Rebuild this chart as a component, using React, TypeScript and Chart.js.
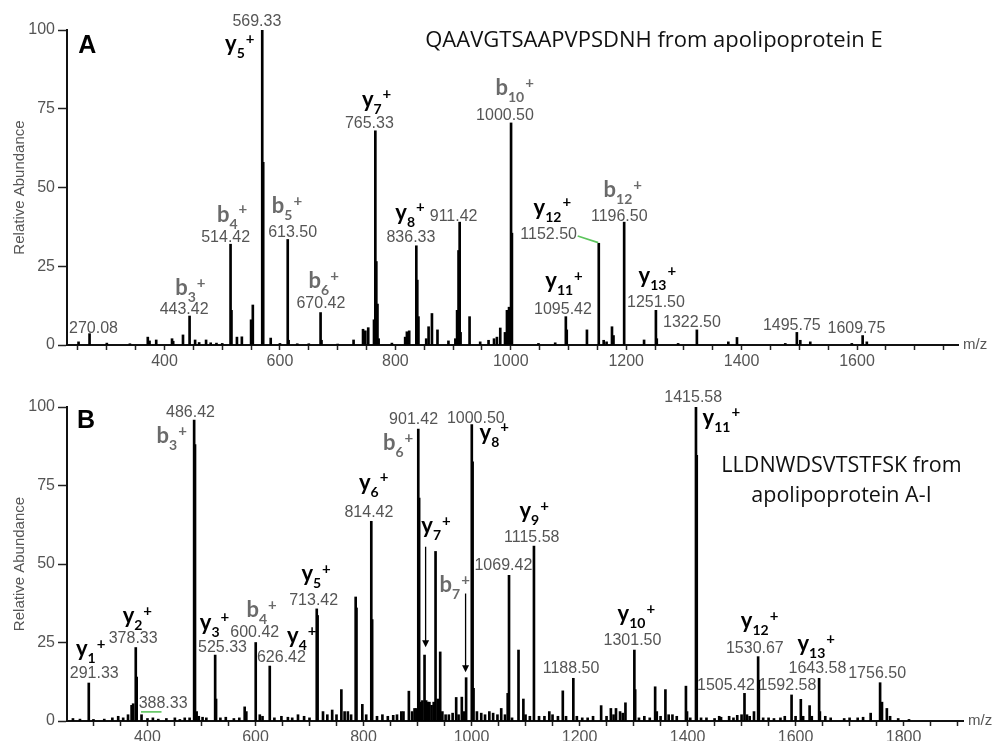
import React, { useEffect, useRef } from 'react';
import { Chart, registerables } from 'chart.js';

Chart.register(...registerables);

// ---------- Panel A: QAAVGTSAAPVPSDNH ----------
const mzA = [
  251, 270.08, 300, 340, 371, 374, 385.6, 413, 415, 432,
  443.42, 453, 460, 472, 480, 490, 500, 514.42, 516, 525.5,
  534, 550, 553, 569.33, 571, 584, 600, 613.5, 615, 630,
  650, 670.42, 672, 700, 727.6, 744, 748, 753, 763, 765.33,
  767, 769, 771, 794, 817, 820, 824, 836.33, 838, 840,
  853.5, 857.6, 863.4, 873, 892, 904, 907, 909.5, 911.42, 913,
  928.6, 947, 961.5, 971, 976, 981.8, 990, 993.4, 997, 1000.5,
  1002, 1048, 1077, 1095.42, 1097, 1132, 1152.5, 1161, 1166, 1175.4,
  1178, 1196.5, 1231, 1251.5, 1253, 1290, 1322.5, 1377, 1392, 1475.7,
  1495.75, 1501.7, 1519, 1591, 1609.75, 1617,
];
const intA = [
  1.0, 3.6, 0.6, 0.4, 2.5, 1.3, 1.6, 2.0, 1.2, 3.2,
  9.2, 1.6, 0.8, 1.6, 0.7, 0.6, 0.5, 32.0, 11.0, 2.5,
  2.6, 8.0, 12.7, 100, 58, 2.2, 0.5, 33.5, 1.5, 0.4,
  0.4, 10.3, 1.5, 0.3, 1.6, 5.0, 4.5, 5.5, 8, 68,
  26.5, 13, 2, 0.6, 2.5, 4.2, 4.5, 31.5, 20.6, 9,
  2, 5.8, 10, 4.8, 1.3, 2, 11, 30, 39, 4,
  9, 1, 1.5, 2, 2.5, 5.4, 4, 11, 12, 70.5,
  35.5, 0.5, 0.7, 9, 4.8, 4.8, 32.3, 1.5, 1, 5.8,
  3, 39, 1.6, 11, 2, 0.5, 4.8, 1, 2.4, 0.5,
  4, 1.5, 1, 0.5, 3, 1,
];
const xTicksA = [
  250, 300, 350, 400, 450, 500, 550, 600, 650, 700, 750, 800, 850, 900, 950,
  1000, 1050, 1100, 1150, 1200, 1250, 1300, 1350, 1400, 1450, 1500, 1550, 1600,
  1650, 1700, 1750,
];
// [m/z, abundance, text] – value labels (centre, baseline)
const valueLabelsA: [number, number, string][] = [
  [560, 101.2, '569.33'], [277, 3.9, '270.08'], [434, 10, '443.42'],
  [506, 32.8, '514.42'], [622, 34.4, '613.50'], [671, 11.6, '670.42'],
  [755, 69, '765.33'], [827, 32.6, '836.33'], [901, 39.5, '911.42'],
  [990, 71.4, '1000.50'], [1065.6, 33.5, '1152.50'], [1188, 39.5, '1196.50'],
  [1090.5, 10, '1095.42'], [1251.6, 12.2, '1251.50'], [1314, 5.8, '1322.50'],
  [1487, 4.8, '1495.75'], [1599, 3.7, '1609.75'],
];
// [ion letter, index, m/z of left edge, abundance of baseline]
const ionLabelsA: [string, string, number, number][] = [
  ['y', '5', 505, 93.2], ['b', '3', 418.5, 15.9], ['b', '4', 490.8, 39.2],
  ['b', '5', 586, 41.8], ['b', '6', 649.6, 18], ['y', '7', 742, 75.7],
  ['y', '8', 800, 39.8], ['b', '10', 973.5, 79.4], ['y', '12', 1039.5, 41.4],
  ['b', '12', 1160.8, 47], ['y', '11', 1059.8, 18.1], ['y', '13', 1221.5, 19.7],
];
const titleA: [string, number, number][] = [
  ['QAAVGTSAAPVPSDNH from apolipoprotein E', 851.8, 94.7],
];
const connectorsA: [number, number, number, number][] = [[1116, 34.6, 1151.5, 32.5]];

// ---------- Panel B: LLDNWDSVTSTFSK ----------
const mzB = [
  262, 275, 291.33, 300, 320, 335, 345.8, 355, 364, 370.6,
  373.5, 378.33, 380, 389, 400, 410, 420, 435, 450.7, 460,
  469, 478, 486.42, 488, 491, 495, 502, 509, 525.33, 527,
  535, 545, 560, 570, 580, 583, 600.42, 608, 613, 626.42,
  635, 648, 660, 668, 678.7, 690, 700, 713.42, 715, 725,
  733, 742, 750, 759, 765, 771, 777, 785.5, 787, 797.8,
  805, 814.42, 816, 825, 835, 845, 855, 862, 870, 874,
  884, 890, 894.5, 898, 901.42, 903, 906, 909, 913, 916,
  919, 922, 926, 930, 933.4, 937.7, 942, 946, 952, 958,
  965, 971.6, 976, 982, 986, 990, 1000.5, 1002, 1003.7, 1010,
  1018, 1025, 1033, 1040, 1048, 1055, 1062, 1067, 1069.42, 1075,
  1087, 1096, 1100, 1108, 1115.58, 1125, 1135, 1144, 1150, 1160,
  1169, 1175, 1188.5, 1195, 1205, 1215, 1225, 1240, 1250, 1258,
  1263, 1267.5, 1275, 1280, 1285, 1301.5, 1303, 1310, 1320, 1330,
  1340, 1343, 1350, 1359, 1365, 1372, 1380, 1397, 1399, 1405,
  1415.58, 1417, 1425, 1435, 1450, 1458.6, 1462, 1477, 1485, 1492,
  1500, 1505.42, 1510, 1515, 1523, 1530.67, 1532, 1540, 1550, 1560,
  1572, 1580, 1592.58, 1600, 1609.7, 1614, 1626, 1630, 1643.58, 1645,
  1655, 1665, 1690, 1700, 1715, 1725, 1739, 1756.5, 1760, 1769,
  1775, 1790, 1810,
];
const intB = [
  0.8, 0.6, 12.1, 0.5, 0.6, 1.0, 1.5, 1.0, 2.0, 5.0,
  5.5, 23.4, 14, 2.0, 0.8, 1.0, 0.6, 0.8, 1.0, 0.5,
  1.0, 1.0, 95.8, 88, 3, 1.5, 1.2, 1.0, 21, 7,
  1, 1.2, 0.8, 1, 4.5, 3, 25, 2, 1.5, 17.5,
  1, 1.5, 1.2, 1, 2, 1.5, 1, 35.7, 33.6, 3,
  2, 3.5, 2, 10, 3, 3, 2, 39.5, 36, 5.3,
  2, 63.6, 32.3, 1.5, 2, 1.5, 1.8, 2, 3, 3,
  9.5, 3, 4, 4, 93, 71, 6, 6.5, 21, 6.5,
  6, 6, 5, 6, 54, 7, 22, 3, 2, 2,
  2.5, 7.5, 2, 7.6, 3, 13.8, 94.4, 82.5, 10.4, 3,
  2.5, 2, 3, 2.5, 2, 4, 2, 8.8, 46.4, 1,
  22.6, 7, 2, 1.5, 55.7, 1.5, 1.5, 3, 2, 1.5,
  9.6, 1.5, 13.6, 1.5, 1, 1, 1.5, 4.9, 1.5, 4,
  2, 4, 3, 2.5, 5.8, 22.6, 10, 1, 1.5, 1,
  10.9, 3, 1.5, 10, 2, 2, 1.5, 11.1, 3, 1,
  100, 84.6, 1, 1, 0.8, 1.5, 1.2, 1.5, 1, 1.8,
  2, 8.8, 2, 1.5, 3, 20.5, 13, 1, 1, 0.8,
  1, 1.5, 8.3, 1.5, 6.9, 1.5, 4.9, 1.5, 13.6, 3,
  1.5, 1, 0.8, 1, 1, 1.2, 2.5, 12.2, 6, 4,
  1.5, 0.8, 0.5,
];
const xTicksB = [
  300, 350, 400, 450, 500, 550, 600, 650, 700, 750, 800, 850, 900, 950, 1000,
  1050, 1100, 1150, 1200, 1250, 1300, 1350, 1400, 1450, 1500, 1550, 1600, 1650,
  1700, 1750, 1800, 1850, 1900,
];
const valueLabelsB: [number, number, string][] = [
  [479.7, 96.9, '486.42'], [301.5, 13.6, '291.33'], [373.5, 24.7, '378.33'],
  [429, 4, '388.33'], [539, 21.9, '525.33'], [598.6, 26.8, '600.42'],
  [648, 18.9, '626.42'], [707.7, 36.9, '713.42'], [810, 65, '814.42'],
  [892.7, 94.6, '901.42'], [1008, 95, '1000.50'], [1059, 48.2, '1069.42'],
  [1111.5, 57.1, '1115.58'], [1184.3, 15.2, '1188.50'], [1298, 24.2, '1301.50'],
  [1410.5, 101.7, '1415.58'], [1524.6, 21.8, '1530.67'], [1640.5, 15.2, '1643.58'],
  [1751, 13.6, '1756.50'], [1471, 9.9, '1505.42'], [1585, 9.9, '1592.58'],
];
const ionLabelsB: [string, string, number, number][] = [
  ['b', '3', 416.8, 88.6], ['y', '1', 267.6, 20.6], ['y', '2', 354, 31.2],
  ['y', '3', 497, 29.1], ['b', '4', 583.3, 33.2], ['y', '4', 658.4, 24.8],
  ['y', '5', 685, 44.5], ['y', '6', 791.5, 73.7], ['b', '6', 836, 86.3],
  ['y', '7', 907, 59.9], ['b', '7', 940.8, 41], ['y', '8', 1015, 89.6],
  ['y', '9', 1088.7, 64.6], ['y', '10', 1270.5, 31.7], ['y', '11', 1427.8, 94.4],
  ['y', '12', 1498.7, 29.6], ['y', '13', 1603.4, 22.2],
];
const titleB: [string, number, number][] = [
  ['LLDNWDSVTSTFSK from', 1685, 79.4],
  ['apolipoprotein A-I', 1685, 69.8],
];
const connectorsB: [number, number, number, number][] = [[388, 2.9, 426, 2.9]];
// [m/z, from abundance, to abundance (arrow tip)]
const arrowsB: [number, number, number][] = [[915, 55.5, 23.5], [989, 40.6, 15.5]];

const yTicks = [0, 25, 50, 75, 100];

const NUM_FONT = '"Liberation Sans", Arial, sans-serif';
const ION_FONT = 'Lato, "Open Sans", sans-serif';
const TITLE_FONT = '"Open Sans", Lato, sans-serif';

type PanelSpec = {
  letter: string;
  letterPos: [number, number];
  mz: number[];
  ab: number[];
  xMin: number;
  xMax: number;
  xTicks: number[];
  padTop: number;
  padRight: number;
  xHeight: number;
  values: [number, number, string][];
  ions: [string, string, number, number][];
  title: [string, number, number][];
  titleAlign: CanvasTextAlign;
  titleSize: number;
  connectors: [number, number, number, number][];
  arrows: [number, number, number][];
};

function annotPlugin(p: PanelSpec) {
  return {
    id: 'annot',
    afterDraw(chart: any) {
      const { ctx, chartArea } = chart;
      const xs = chart.scales.x;
      const ys = chart.scales.y;
      const px = (m: number) => xs.getPixelForValue(m);
      const py = (a: number) => ys.getPixelForValue(a);
      ctx.save();

      // connectors (green)
      ctx.strokeStyle = '#5cc45c';
      ctx.lineWidth = 1.6;
      p.connectors.forEach(([m1, a1, m2, a2]) => {
        ctx.beginPath();
        ctx.moveTo(px(m1), py(a1));
        ctx.lineTo(px(m2), py(a2));
        ctx.stroke();
      });

      // arrows
      ctx.strokeStyle = '#000';
      ctx.fillStyle = '#000';
      ctx.lineWidth = 1.3;
      p.arrows.forEach(([m, a1, a2]) => {
        const x = px(m);
        const y1 = py(a1);
        const y2 = py(a2);
        ctx.beginPath();
        ctx.moveTo(x, y1);
        ctx.lineTo(x, y2 - 5);
        ctx.stroke();
        ctx.beginPath();
        ctx.moveTo(x - 3.5, y2 - 7);
        ctx.lineTo(x + 3.5, y2 - 7);
        ctx.lineTo(x, y2);
        ctx.closePath();
        ctx.fill();
      });

      // value labels
      ctx.font = `16px ${NUM_FONT}`;
      ctx.fillStyle = '#555';
      ctx.textAlign = 'center';
      ctx.textBaseline = 'alphabetic';
      p.values.forEach(([m, a, t]) => ctx.fillText(t, px(m), py(a)));

      // ion labels
      p.ions.forEach(([letter, idx, m, a]) => {
        const color = letter === 'y' ? '#000' : '#6a6a6a';
        let x = px(m);
        const y = py(a);
        ctx.fillStyle = color;
        ctx.textAlign = 'left';
        ctx.textBaseline = 'alphabetic';
        ctx.font = `bold 22px ${ION_FONT}`;
        ctx.fillText(letter, x, y);
        x += ctx.measureText(letter).width;
        ctx.font = `bold 14px ${ION_FONT}`;
        ctx.fillText(idx, x, y + 7);
        x += ctx.measureText(idx).width + 1;
        ctx.font = `bold 15px ${ION_FONT}`;
        ctx.textBaseline = 'middle';
        ctx.fillText('+', x, y - 12);
      });

      // titles
      ctx.fillStyle = '#111';
      ctx.textBaseline = 'alphabetic';
      ctx.textAlign = p.titleAlign;
      ctx.font = `${p.titleSize}px ${TITLE_FONT}`;
      p.title.forEach(([t, m, a]) => ctx.fillText(t, px(m), py(a)));

      // panel letter
      ctx.textAlign = 'left';
      ctx.font = `bold 25px ${NUM_FONT}`;
      ctx.fillStyle = '#000';
      ctx.fillText(p.letter, px(p.letterPos[0]), py(p.letterPos[1]));

      // axis unit
      ctx.font = `15px ${NUM_FONT}`;
      ctx.fillStyle = '#555';
      ctx.textBaseline = 'middle';
      ctx.fillText('m/z', chartArea.right + 5, py(0));

      ctx.restore();
    },
  };
}

function makeConfig(p: PanelSpec): any {
  return {
    type: 'bar',
    data: {
      datasets: [
        {
          data: p.mz.map((m, i) => ({ x: m, y: p.ab[i] })),
          backgroundColor: '#000',
          borderWidth: 0,
          barThickness: 2,
          grouped: false,
        },
      ],
    },
    options: {
      animation: false,
      responsive: false,
      events: [],
      layout: { padding: { top: p.padTop, right: p.padRight, left: 0, bottom: 0 } },
      plugins: { legend: { display: false }, tooltip: { enabled: false } },
      scales: {
        x: {
          type: 'linear',
          min: p.xMin,
          max: p.xMax,
          offset: false,
          afterBuildTicks: (s: any) => {
            s.ticks = p.xTicks.map((v) => ({ value: v }));
          },
          afterFit: (s: any) => {
            s.height = p.xHeight;
          },
          grid: {
            display: true,
            drawOnChartArea: false,
            drawTicks: true,
            tickLength: 5,
            tickColor: '#222',
            tickWidth: 1.5,
            offset: false,
          },
          border: { display: true, color: '#111', width: 2 },
          ticks: {
            autoSkip: false,
            maxRotation: 0,
            minRotation: 0,
            padding: 2,
            color: '#555',
            font: { family: NUM_FONT, size: 16 },
            callback: (v: number) => (v % 200 === 0 ? String(v) : ''),
          },
        },
        y: {
          type: 'linear',
          min: 0,
          max: 100,
          afterBuildTicks: (s: any) => {
            s.ticks = yTicks.map((v) => ({ value: v }));
          },
          afterFit: (s: any) => {
            s.width = 67;
          },
          grid: {
            display: true,
            drawOnChartArea: false,
            drawTicks: true,
            tickLength: 9,
            tickColor: '#222',
            tickWidth: 1.5,
          },
          border: { display: true, color: '#111', width: 2 },
          ticks: {
            padding: 3,
            color: '#555',
            font: { family: NUM_FONT, size: 16 },
            callback: (v: number) => String(v),
          },
          title: {
            display: true,
            text: 'Relative Abundance',
            color: '#555',
            font: { family: NUM_FONT, size: 15 },
            padding: { top: 11, bottom: 0 },
          },
        },
      },
    },
    plugins: [annotPlugin(p)],
  };
}

const panelA: PanelSpec = {
  letter: 'A',
  letterPos: [250.4, 92.7],
  mz: mzA,
  ab: intA,
  xMin: 231,
  xMax: 1775,
  xTicks: xTicksA,
  padTop: 30,
  padRight: 35,
  xHeight: 25,
  values: valueLabelsA,
  ions: ionLabelsA,
  title: titleA,
  titleAlign: 'left',
  titleSize: 22,
  connectors: connectorsA,
  arrows: [],
};

const panelB: PanelSpec = {
  letter: 'B',
  letterPos: [269.4, 93.3],
  mz: mzB,
  ab: intB,
  xMin: 251,
  xMax: 1910,
  xTicks: xTicksB,
  padTop: 37,
  padRight: 30,
  xHeight: 20,
  values: valueLabelsB,
  ions: ionLabelsB,
  title: titleB,
  titleAlign: 'center',
  titleSize: 21.5,
  connectors: connectorsB,
  arrows: arrowsB,
};

export default function App() {
  const refA = useRef<HTMLCanvasElement>(null);
  const refB = useRef<HTMLCanvasElement>(null);

  useEffect(() => {
    const a = new Chart(refA.current as HTMLCanvasElement, makeConfig(panelA));
    const b = new Chart(refB.current as HTMLCanvasElement, makeConfig(panelB));
    return () => {
      a.destroy();
      b.destroy();
    };
  }, []);

  return (
    <div style={{ position: 'absolute', left: 0, top: 0, width: 993, height: 741, background: '#fff' }}>
      <canvas
        ref={refA}
        width={993}
        height={370}
        style={{ position: 'absolute', left: 0, top: 0, width: 993, height: 370 }}
      />
      <canvas
        ref={refB}
        width={993}
        height={371}
        style={{ position: 'absolute', left: 0, top: 370, width: 993, height: 371 }}
      />
    </div>
  );
}
